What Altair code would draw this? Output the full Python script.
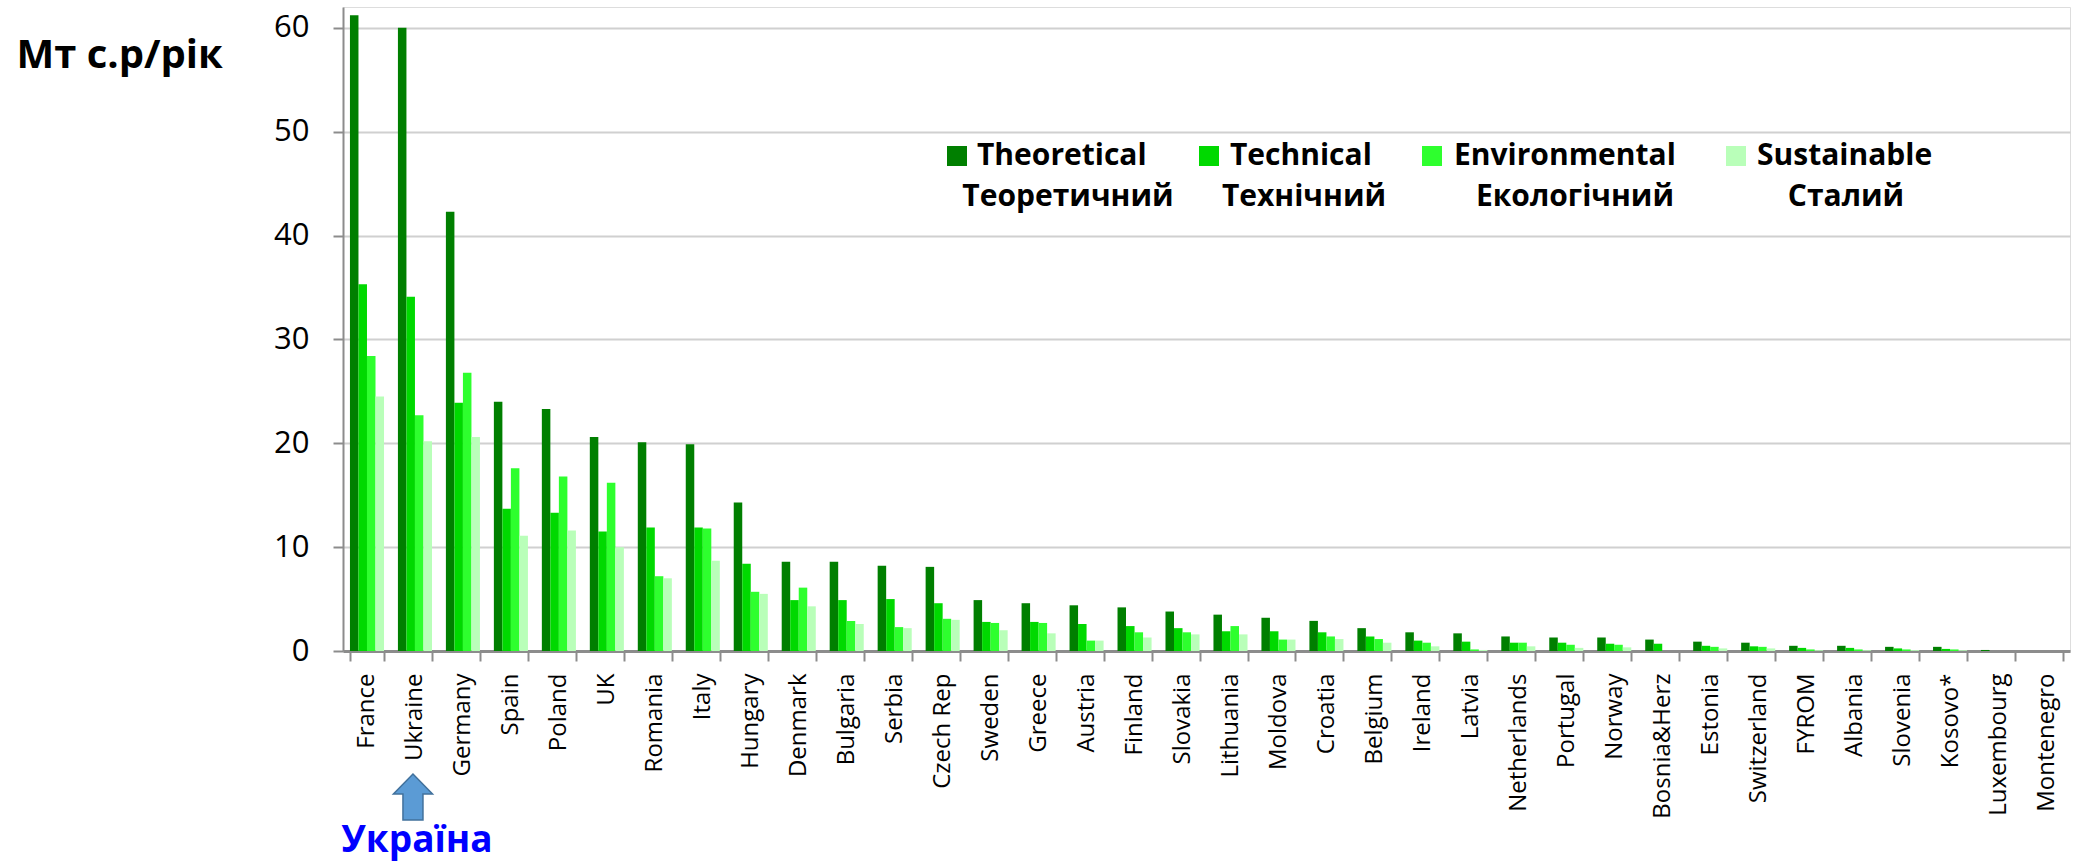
import altair as alt
import pandas as pd

# Biomass potential by country, Mt of fuel equivalent per year
countries = ["France", "Ukraine", "Germany", "Spain", "Poland", "UK", "Romania", "Italy",
             "Hungary", "Denmark", "Bulgaria", "Serbia", "Czech Rep", "Sweden", "Greece",
             "Austria", "Finland", "Slovakia", "Lithuania", "Moldova", "Croatia", "Belgium",
             "Ireland", "Latvia", "Netherlands", "Portugal", "Norway", "Bosnia&Herz",
             "Estonia", "Switzerland", "FYROM", "Albania", "Slovenia", "Kosovo*",
             "Luxembourg", "Montenegro"]

theoretical = [61.2, 60.0, 42.3, 24.0, 23.3, 20.6, 20.1, 19.9, 14.3, 8.6, 8.6, 8.2, 8.1,
               4.9, 4.6, 4.4, 4.2, 3.8, 3.5, 3.2, 2.9, 2.2, 1.8, 1.7, 1.4, 1.3, 1.3, 1.1,
               0.9, 0.8, 0.5, 0.5, 0.4, 0.4, 0.1, 0.0]
technical = [35.3, 34.1, 23.9, 13.7, 13.3, 11.5, 11.9, 11.9, 8.4, 4.9, 4.9, 5.0, 4.6,
             2.8, 2.8, 2.6, 2.4, 2.2, 1.9, 1.9, 1.8, 1.4, 1.0, 0.9, 0.8, 0.8, 0.7, 0.7,
             0.5, 0.45, 0.3, 0.3, 0.25, 0.2, 0.0, 0.0]
environmental = [28.4, 22.7, 26.8, 17.6, 16.8, 16.2, 7.2, 11.8, 5.7, 6.1, 2.9, 2.3, 3.1,
                 2.7, 2.7, 1.0, 1.8, 1.8, 2.4, 1.1, 1.4, 1.15, 0.8, 0.15, 0.8, 0.6, 0.6,
                 0.0, 0.4, 0.4, 0.15, 0.15, 0.15, 0.15, 0.0, 0.0]
sustainable = [24.5, 20.2, 20.6, 11.1, 11.6, 10.0, 7.0, 8.7, 5.5, 4.3, 2.6, 2.2, 3.0,
               2.0, 1.7, 1.0, 1.3, 1.6, 1.6, 1.1, 1.15, 0.8, 0.45, 0.1, 0.45, 0.3, 0.35,
               0.0, 0.25, 0.25, 0.07, 0.07, 0.08, 0.07, 0.0, 0.0]

series_en = ["Theoretical", "Technical", "Environmental", "Sustainable"]
series_ua = ["Теоретичний", "Технічний", "Екологічний", "Сталий"]
series_colors = ["#007f00", "#00d900", "#2eff2e", "#b9ffb9"]

y_ticks = [0, 10, 20, 30, 40, 50, 60]
y_title = "Мт с.р/рік"
highlight_country = "Ukraine"
highlight_label = "Україна"

# ---- layout (pixels) ----
PLOT_W, PLOT_H = 1727, 644
PAD = {"left": 343, "top": 7, "right": 20, "bottom": 216}
FONT = "Open Sans"
GRAY = "#8c8c8c"

# legend geometry, relative to the plot origin
LEG_SQ_X = [614, 866, 1089, 1393]
LEG_L1_X = [634, 887, 1111, 1414]
LEG_L2_X = [725, 961, 1232, 1503]
LEG_SQ_Y, LEG_L1_Y, LEG_L2_Y = 149, 158, 199

rows = []
for s, vals in zip(series_en, [theoretical, technical, environmental, sustainable]):
    for c, v in zip(countries, vals):
        rows.append({"country": c, "series": s, "value": v})
bars_df = pd.DataFrame(rows)

color_scale = alt.Scale(domain=series_en, range=series_colors)
x_scale = alt.Scale(paddingInner=0.29, paddingOuter=0.145)

bars = alt.Chart(bars_df).mark_bar().encode(
    x=alt.X("country:N", sort=countries, scale=x_scale,
            axis=alt.Axis(title=None, labelAngle=-90, tickBand="extent",
                          labelFont=FONT, labelFontSize=24, labelColor="#000000",
                          labelPadding=12, tickSize=10, tickColor=GRAY, tickWidth=2,
                          domainColor=GRAY, domainWidth=3, grid=False)),
    xOffset=alt.XOffset("series:N", sort=series_en, scale=alt.Scale(paddingInner=0)),
    y=alt.Y("value:Q", scale=alt.Scale(domain=[0, 62], nice=False),
            axis=alt.Axis(values=y_ticks, title=y_title, titleAngle=0,
                          titleAlign="left", titleBaseline="alphabetic",
                          titleX=-327, titleY=60, titleFont=FONT, titleFontSize=40,
                          titleFontWeight="bold", titleColor="#000000",
                          labelFont=FONT, labelFontSize=31, labelColor="#000000",
                          labelPadding=24, tickSize=10, tickColor=GRAY, tickWidth=2,
                          domainColor=GRAY, domainWidth=2,
                          grid=True, gridColor="#d0d0d0", gridWidth=2)),
    color=alt.Color("series:N", scale=color_scale, legend=None),
)

# hand-placed legend with bilingual labels
leg_df = pd.DataFrame({
    "series": series_en,
    "ua": series_ua,
    "sx": LEG_SQ_X,
    "l1x": LEG_L1_X,
    "l2x": LEG_L2_X,
})
leg_sq = alt.Chart(leg_df).mark_square(size=400, opacity=1).encode(
    x=alt.X("sx:Q", scale=None, axis=None),
    y=alt.value(LEG_SQ_Y),
    color=alt.Color("series:N", scale=color_scale, legend=None),
)
leg_l1 = alt.Chart(leg_df).mark_text(
    align="left", baseline="alphabetic", font=FONT, fontSize=30,
    fontWeight="bold", color="#000000",
).encode(x=alt.X("l1x:Q", scale=None, axis=None), y=alt.value(LEG_L1_Y), text="series:N")
leg_l2 = alt.Chart(leg_df).mark_text(
    align="center", baseline="alphabetic", font=FONT, fontSize=30,
    fontWeight="bold", color="#000000",
).encode(x=alt.X("l2x:Q", scale=None, axis=None), y=alt.value(LEG_L2_Y), text="ua:N")

# arrow and caption pointing at Ukraine
hl_df = pd.DataFrame({"country": [highlight_country], "label": [highlight_label]})
arrow = alt.Chart(hl_df).mark_point(
    shape="M0,-1 L0.85,-0.13 L0.435,-0.13 L0.435,1 L-0.435,1 L-0.435,-0.13 L-0.85,-0.13 Z",
    size=2116, filled=True, fill="#5b9bd5", stroke="#41719c", strokeWidth=1.5,
    opacity=1, xOffset=-2,
).encode(x=alt.X("country:N", sort=countries, scale=x_scale), y=alt.value(790))
caption = alt.Chart(hl_df).mark_text(
    align="center", baseline="alphabetic", font=FONT, fontSize=37,
    fontWeight="bold", color="#0000ff", dx=2,
).encode(x=alt.X("country:N", sort=countries, scale=x_scale), y=alt.value(845), text="label:N")

chart = alt.layer(bars, leg_sq, leg_l1, leg_l2, arrow, caption).properties(
    width=PLOT_W, height=PLOT_H, padding=PAD,
    autosize=alt.AutoSizeParams(type="none"),
).configure_view(stroke=GRAY, strokeWidth=2).configure(background="#ffffff")

chart.save("out.html", embed_options={"renderer": "svg", "actions": False})
